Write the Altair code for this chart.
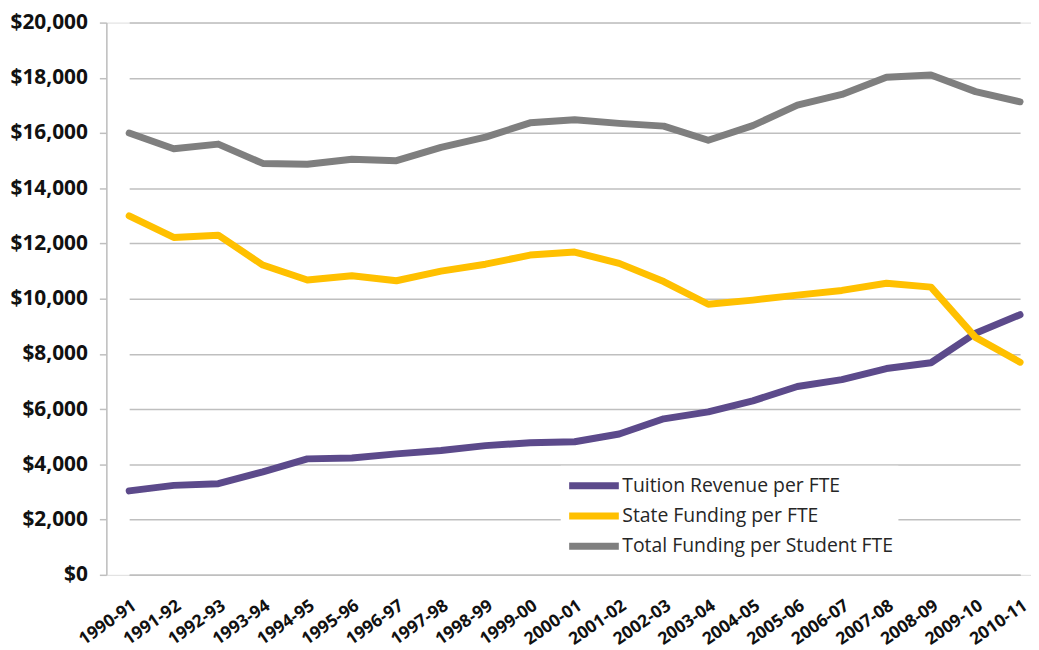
import altair as alt
import pandas as pd

seasons = ["1990-91", "1991-92", "1992-93", "1993-94", "1994-95", "1995-96", "1996-97",
           "1997-98", "1998-99", "1999-00", "2000-01", "2001-02", "2002-03", "2003-04",
           "2004-05", "2005-06", "2006-07", "2007-08", "2008-09", "2009-10", "2010-11"]
tuition = [3040, 3240, 3300, 3730, 4200, 4230, 4380, 4500, 4680, 4780, 4820,
           5100, 5650, 5900, 6300, 6820, 7070, 7470, 7680, 8750, 9420]
state = [13000, 12220, 12300, 11220, 10680, 10830, 10650, 11000, 11250, 11580, 11690,
         11280, 10620, 9800, 9950, 10130, 10300, 10560, 10420, 8600, 7700]
total = [16000, 15430, 15600, 14900, 14870, 15050, 15000, 15480, 15850, 16370, 16480,
         16350, 16250, 15740, 16270, 17010, 17400, 18020, 18100, 17500, 17130]
series_names = ["Tuition Revenue per FTE", "State Funding per FTE", "Total Funding per Student FTE"]
series_colors = ["#5C4A8B", "#FFC000", "#7F7F7F"]
y_ticks = [0, 2000, 4000, 6000, 8000, 10000, 12000, 14000, 16000, 18000, 20000]

rows = []
for i, (name, vals) in enumerate(zip(series_names, [tuition, state, total])):
    for s, v in zip(seasons, vals):
        rows.append({"season": s, "series": name, "value": v, "k": i})
df = pd.DataFrame(rows)

font = "Open Sans"
grid_col = "#BFBFBF"

chart = alt.Chart(df).mark_line(strokeWidth=7, strokeCap="round", strokeJoin="round").encode(
    x=alt.X("season:N", sort=seasons,
            scale=alt.Scale(type="point", range=[23, 920], padding=0),
            axis=alt.Axis(title=None, labelAngle=-35, labelAlign="right", labelBaseline="middle",
                          labelFont=font, labelFontWeight="bold", labelFontSize=17.5,
                          labelColor="#111111", ticks=False, labelPadding=29, labelOffset=5,
                          domainColor=grid_col, domainWidth=1.5, grid=False)),
    y=alt.Y("value:Q", scale=alt.Scale(domain=[0, 20000], nice=False),
            axis=alt.Axis(title=None, values=y_ticks, format="$,.0f",
                          labelFont=font, labelFontWeight="bold", labelFontSize=21,
                          labelColor="#111111", labelPadding=12,
                          tickSize=7, tickColor=grid_col, tickWidth=1.5,
                          domainColor=grid_col, domainWidth=1.5,
                          grid=True, gridColor=grid_col, gridWidth=1.5)),
    color=alt.Color("series:N",
                    scale=alt.Scale(domain=series_names, range=series_colors),
                    legend=alt.Legend(title=None, orient="none", legendX=457.5, legendY=446.3,
                                      symbolType="stroke", symbolSize=2500, symbolStrokeWidth=7,
                                      labelFont=font, labelFontSize=19.5, labelColor="#262626",
                                      labelOffset=0, clipHeight=30, rowPadding=0.5,
                                      fillColor="white", padding=5, labelLimit=400)),
    order=alt.Order("k:Q"),
).properties(
    width=931, height=556,
    autosize=alt.AutoSizeParams(type="none"),
    padding={"left": 99, "top": 12.5, "right": 0, "bottom": 73.5},
).configure_view(stroke=None).configure(background="white")

chart.save("out.html", embed_options={"renderer": "svg", "actions": False})
